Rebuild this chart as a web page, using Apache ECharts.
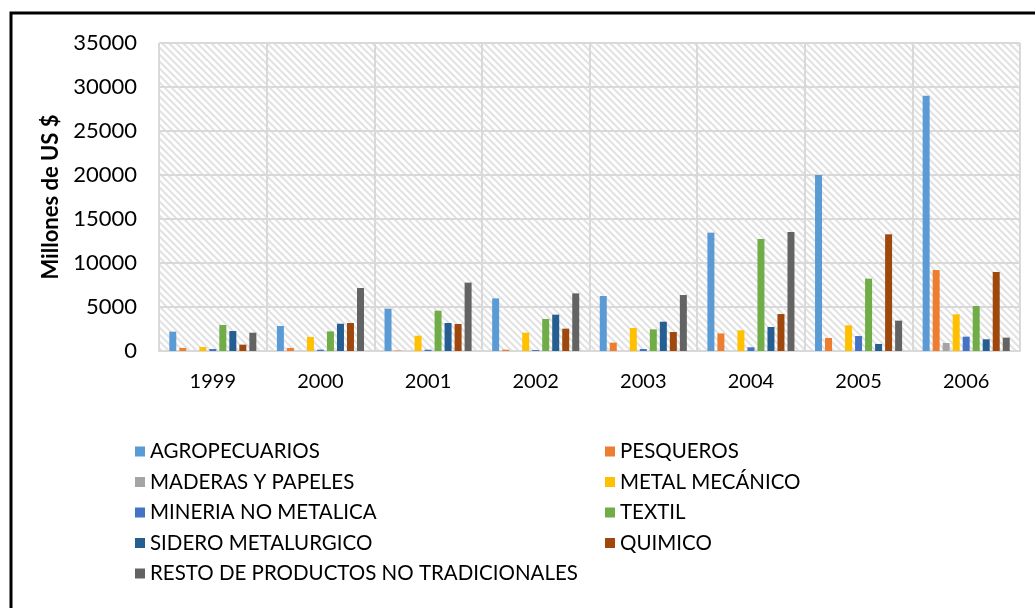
<!DOCTYPE html>
<html>
<head>
<meta charset="utf-8">
<script src="https://cdn.jsdelivr.net/npm/echarts@6/dist/echarts.min.js"></script>
<style>
  html, body { margin: 0; padding: 0; background: #fff; }
  #chart { width: 1035px; height: 608px; }
</style>
</head>
<body>
<div id="chart"></div>
<script>
// Exportaciones no tradicionales por sector, 1999-2006 (millones de US $)
const years = ['1999', '2000', '2001', '2002', '2003', '2004', '2005', '2006'];

const agropecuarios   = [2200, 2840, 4810, 5980, 6250, 13450, 20000, 29000];
const pesqueros       = [350, 350, 50, 150, 950, 2000, 1480, 9200];
const maderasPapeles  = [0, 0, 0, 0, 0, 0, 0, 910];
const metalMecanico   = [450, 1600, 1740, 2080, 2610, 2350, 2920, 4170];
const mineriaNoMetal  = [230, 150, 150, 110, 230, 420, 1700, 1630];
const textil          = [2950, 2230, 4580, 3640, 2460, 12730, 8220, 5110];
const sideroMetal     = [2270, 3100, 3180, 4130, 3330, 2730, 800, 1330];
const quimico         = [720, 3180, 3070, 2540, 2160, 4200, 13260, 8980];
const restoNoTrad     = [2080, 7160, 7770, 6550, 6360, 13520, 3450, 1520];

const seriesNames = [
  'AGROPECUARIOS', 'PESQUEROS', 'MADERAS Y PAPELES', 'METAL MECÁNICO',
  'MINERIA NO METALICA', 'TEXTIL', 'SIDERO METALURGICO', 'QUIMICO',
  'RESTO DE PRODUCTOS NO TRADICIONALES'
];
const seriesValues = [
  agropecuarios, pesqueros, maderasPapeles, metalMecanico,
  mineriaNoMetal, textil, sideroMetal, quimico, restoNoTrad
];
const palette = [
  '#5B9BD5', '#ED7D31', '#A5A5A5', '#FFC000',
  '#4472C4', '#70AD47', '#255E91', '#9E480E', '#636363'
];
const yTicks = { min: 0, max: 35000, interval: 5000 };

// Diagonal hatch tile for the plot background
function hatchTile() {
  const size = 7;
  const c = document.createElement('canvas');
  c.width = size; c.height = size;
  const g = c.getContext('2d');
  g.fillStyle = '#ffffff';
  g.fillRect(0, 0, size, size);
  g.strokeStyle = '#e2e2e2';
  g.lineWidth = 2;
  g.beginPath();
  g.moveTo(-1, -1); g.lineTo(size + 1, size + 1);
  g.moveTo(-size - 1, -1); g.lineTo(1, size + 1);
  g.moveTo(size - 1, -1); g.lineTo(2 * size + 1, size + 1);
  g.stroke();
  return c;
}

const FONT = 'Lato, "Open Sans", sans-serif';
const chart = echarts.init(document.getElementById('chart'), null, { renderer: 'canvas' });

const series = seriesNames.map((name, i) => ({
  name: name,
  type: 'bar',
  data: seriesValues[i],
  barWidth: 7,
  barGap: '43%',
  itemStyle: { color: palette[i] },
  emphasis: { disabled: true }
}));

const legendText = { fontFamily: FONT, fontSize: 20.5, color: '#000' };

chart.setOption({
  animation: false,
  backgroundColor: '#ffffff',
  grid: {
    left: 159, top: 43, right: 15, bottom: 257,
    show: true,
    backgroundColor: { image: hatchTile(), repeat: 'repeat' },
    borderWidth: 0
  },
  xAxis: {
    type: 'category',
    data: years,
    axisTick: { show: false },
    axisLine: { show: true, lineStyle: { color: '#d9d9d9', width: 2 } },
    splitLine: { show: true, lineStyle: { color: '#d9d9d9', width: 2 } },
    axisLabel: { fontFamily: FONT, fontSize: 20, color: '#000', margin: 21 }
  },
  yAxis: {
    type: 'value',
    min: yTicks.min, max: yTicks.max, interval: yTicks.interval,
    name: 'Millones de US $',
    nameLocation: 'middle',
    nameRotate: 90,
    nameGap: 83,
    nameTextStyle: { fontFamily: FONT, fontSize: 22, fontWeight: 'bold', color: '#000' },
    axisLine: { show: false },
    axisTick: { show: false },
    splitLine: { show: true, lineStyle: { color: '#d9d9d9', width: 2 } },
    axisLabel: {
      fontFamily: FONT, fontSize: 22, color: '#000', margin: 22,
      formatter: (v) => String(v)
    }
  },
  legend: [
    {
      data: [seriesNames[0], seriesNames[2], seriesNames[4], seriesNames[6], seriesNames[8]],
      orient: 'vertical', left: 130, top: 436,
      icon: 'rect', itemWidth: 10, itemHeight: 10, itemGap: 9.5,
      textStyle: legendText, selectedMode: false
    },
    {
      data: [seriesNames[1], seriesNames[3], seriesNames[5], seriesNames[7]],
      orient: 'vertical', left: 600, top: 436,
      icon: 'rect', itemWidth: 10, itemHeight: 10, itemGap: 9.5,
      textStyle: legendText, selectedMode: false
    }
  ],
  graphic: [
    {
      type: 'rect', silent: true,
      shape: { x: 11, y: 13, width: 1200, height: 800 },
      style: { fill: 'none', stroke: '#000', lineWidth: 3 }
    }
  ],
  series: series
});
</script>
</body>
</html>
